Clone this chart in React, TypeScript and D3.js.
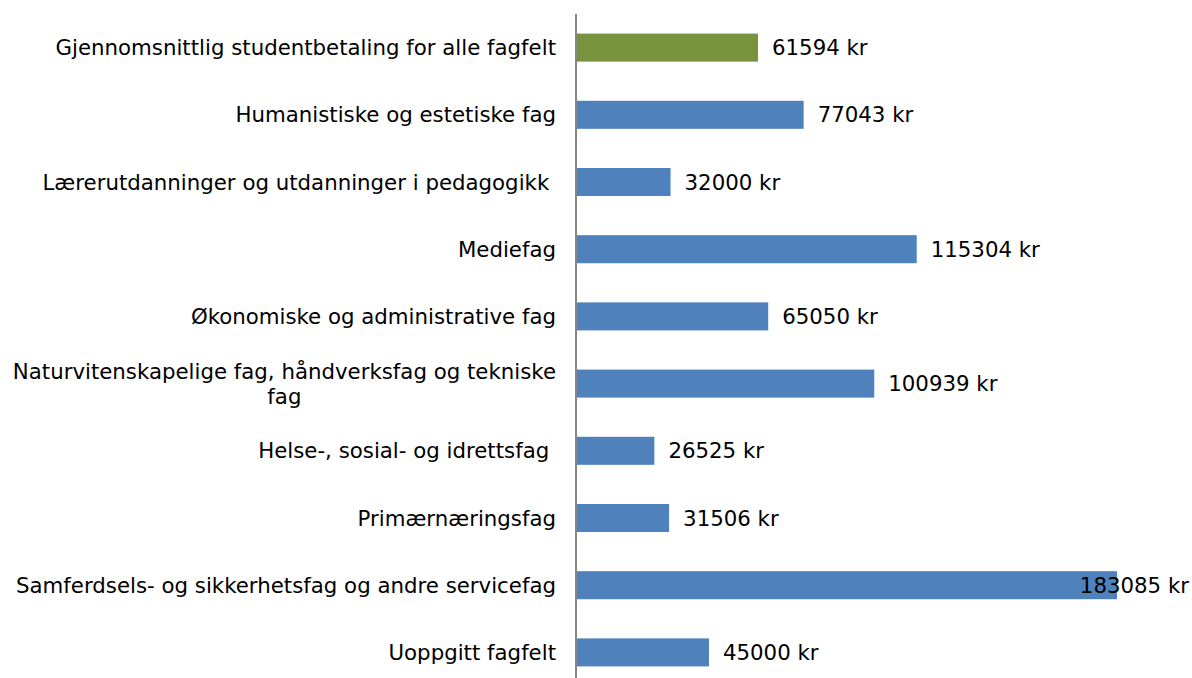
import React, { useEffect, useRef } from "react";
import * as d3 from "d3";

const categories: string[][] = [
  ["Gjennomsnittlig studentbetaling for alle fagfelt"],
  ["Humanistiske og estetiske fag"],
  ["Lærerutdanninger og utdanninger i pedagogikk "],
  ["Mediefag"],
  ["Økonomiske og administrative fag"],
  ["Naturvitenskapelige fag, håndverksfag og tekniske", "fag"],
  ["Helse-, sosial- og idrettsfag "],
  ["Primærnæringsfag"],
  ["Samferdsels- og sikkerhetsfag og andre servicefag"],
  ["Uoppgitt fagfelt"],
];
const values: number[] = [61594, 77043, 32000, 115304, 65050, 100939, 26525, 31506, 183085, 45000];
const highlight: boolean[] = [true, false, false, false, false, false, false, false, false, false];

const W = 1192;
const H = 678;
const FONT = "'DejaVu Sans', Verdana, sans-serif";
const FS = 21.3;

export default function App() {
  const ref = useRef<SVGSVGElement>(null);
  useEffect(() => {
    const svg = d3.select(ref.current);
    svg.selectAll("*").remove();
    const axisX = 576;
    const x = d3.scaleLinear().domain([0, 183085]).range([axisX, 1117]);
    const y = d3
      .scaleBand<number>()
      .domain(d3.range(values.length))
      .range([14, 686])
      .paddingInner(0.583)
      .paddingOuter(0.2915);

    const g = svg.append("g");
    g.selectAll("rect")
      .data(values)
      .join("rect")
      .attr("x", x(0))
      .attr("y", (_, i) => y(i)!)
      .attr("width", (d) => x(d) - x(0))
      .attr("height", y.bandwidth())
      .attr("fill", (_, i) => (highlight[i] ? "#77933C" : "#4F81BD"));

    g.append("line")
      .attr("x1", axisX)
      .attr("x2", axisX)
      .attr("y1", 14)
      .attr("y2", H)
      .attr("stroke", "#868686")
      .attr("stroke-width", 2);

    // value labels
    g.selectAll("text.val")
      .data(values)
      .join("text")
      .attr("class", "val")
      .attr("x", (d) => x(d) + 14)
      .attr("y", (_, i) => y(i)! + y.bandwidth() / 2)
      .attr("dy", "0.36em")
      .attr("font-family", FONT)
      .attr("font-size", FS)
      .attr("fill", "#000")
      .text((d) => `${d} kr`)
      .each(function () {
        const el = this as SVGTextElement;
        const w = el.getComputedTextLength();
        const cur = +el.getAttribute("x")!;
        if (cur + w > W - 3) el.setAttribute("x", String(W - 3 - w));
      });

    // category labels
    const labelRight = axisX - 20;
    const lineH = 25;
    categories.forEach((lines, i) => {
      const cy = y(i)! + y.bandwidth() / 2;
      const top = cy - ((lines.length - 1) * lineH) / 2;
      const first = g
        .append("text")
        .attr("x", labelRight)
        .attr("y", top)
        .attr("dy", "0.36em")
        .attr("text-anchor", "end")
        .attr("font-family", FONT)
        .attr("font-size", FS)
        .attr("fill", "#000")
        .style("white-space", "pre")
        .text(lines[0]);
      if (lines.length > 1) {
        const w = (first.node() as SVGTextElement).getComputedTextLength();
        const center = labelRight - w / 2;
        lines.slice(1).forEach((ln, k) => {
          g.append("text")
            .attr("x", center)
            .attr("y", top + (k + 1) * lineH)
            .attr("dy", "0.36em")
            .attr("text-anchor", "middle")
            .attr("font-family", FONT)
            .attr("font-size", FS)
            .attr("fill", "#000")
            .text(ln);
        });
      }
    });
  }, []);
  return (
    <svg
      ref={ref}
      width={W}
      height={H}
      style={{ position: "absolute", left: 0, top: 0, background: "#fff" }}
    />
  );
}
